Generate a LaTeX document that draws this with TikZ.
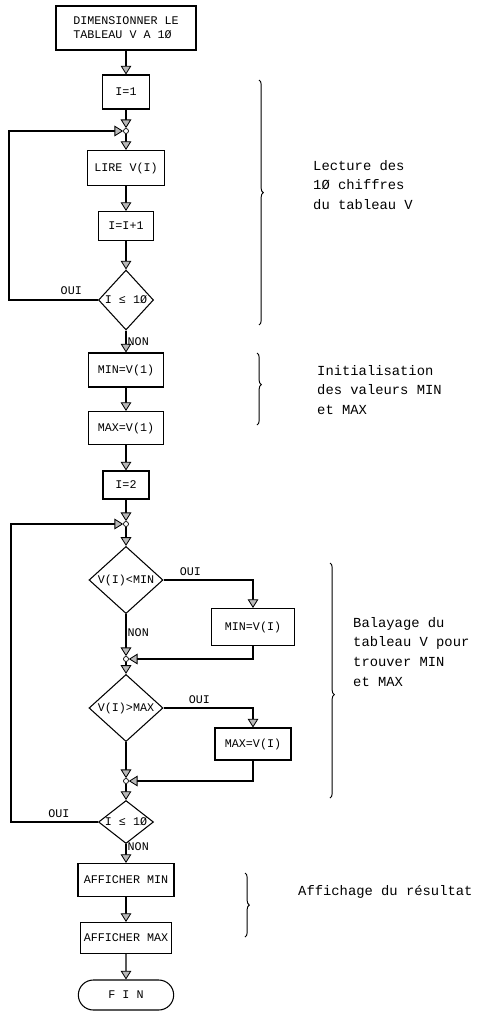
\documentclass[tikz,border=0pt]{standalone}
\usepackage{fontspec}
\setmonofont{Liberation Mono}
\usetikzlibrary{positioning, arrows.meta, shapes.geometric, shapes.misc, decorations.pathreplacing}

\begin{document}
\begin{tikzpicture}[
  x=0.03cm, y=-0.03cm,
  box/.style={
    draw,
    line width=0.9pt,
    inner sep=2pt,
    align=center,
    font=\fontsize{10}{12}\selectfont\ttfamily
  },
  test/.style={
    diamond,
    draw,
    line width=0.9pt,
    inner sep=0pt,
    aspect=1,
    font=\fontsize{10}{12}\selectfont\ttfamily
  },
  jonction/.style={
    circle,
    draw,
    fill=white,
    inner sep=0pt,
    minimum size=0.15cm,
    line width=0.6pt
  },
  arrow/.style={
    -{Triangle[width=0.32cm, length=0.26cm, fill=gray!55, line width=0.7pt]},
    line width=0.9pt
  },
  lab/.style={
    inner sep=1pt,
    font=\fontsize{10}{12}\selectfont\ttfamily
  },
  note/.style={
    anchor=west,
    align=left,
    inner sep=0pt,
    font=\fontsize{11.8}{17}\selectfont\ttfamily
  },
  accolade/.style={
    decorate,
    decoration={brace, amplitude=0.13cm, aspect=#1},
    line width=0.8pt
  },
  accolade/.default=0.5
]
\useasboundingbox (0,0) rectangle (477,1013);

\node[box, minimum width=4.2cm, minimum height=1.32cm, align=left] (dim) at (126,28)
  {DIMENSIONNER LE\\TABLEAU V A 1Ø};
\node[box, minimum width=1.41cm, minimum height=1.02cm] (i1) at (126,92) {I=1};
\node[jonction] (j1) at (126,131) {};
\node[box, minimum width=2.31cm, minimum height=1.05cm] (lire) at (126,168) {LIRE V(I)};
\node[box, minimum width=1.65cm, minimum height=0.87cm] (incr) at (126,226) {I=I+1};
\node[test, minimum width=1.65cm, minimum height=1.8cm] (fin1) at (126,300) {I ≤ 1Ø};
\node[box, minimum width=2.25cm, minimum height=1.02cm] (minv) at (126,370) {MIN=V(1)};
\node[box, minimum width=2.25cm, minimum height=0.99cm] (maxv) at (126,428) {MAX=V(1)};
\node[box, minimum width=1.38cm, minimum height=0.84cm] (i2) at (126,485) {I=2};
\node[jonction] (j2) at (126,524) {};
\node[test, minimum width=2.22cm, minimum height=1.98cm] (cmin) at (126,580) {V(I)<MIN};
\node[box, minimum width=2.49cm, minimum height=1.11cm] (setmin) at (253,627) {MIN=V(I)};
\node[jonction] (j3) at (126,659) {};
\node[test, minimum width=2.22cm, minimum height=1.74cm] (cmax) at (126,708) {V(I)>MAX};
\node[box, minimum width=2.28cm, minimum height=0.96cm] (setmax) at (253,744) {MAX=V(I)};
\node[jonction] (j4) at (126,781) {};
\node[test, aspect=1.3, minimum width=1.65cm, minimum height=1.29cm] (fin2) at (126,822) {I ≤ 1Ø};
\node[box, minimum width=2.88cm, minimum height=0.99cm] (affmin) at (126,880) {AFFICHER MIN};
\node[box, minimum width=2.73cm, minimum height=0.93cm] (affmax) at (126,938) {AFFICHER MAX};
\node[box, rounded rectangle, minimum width=3cm, minimum height=0.9cm] (fin) at (126,995) {F I N};

\coordinate (back1) at (9,300);
\coordinate (back2) at (11,822);

\draw[arrow] (dim) -- (i1);
\draw[arrow] (i1) -- (j1);
\draw[arrow] (j1) -- (lire);
\draw[arrow] (lire) -- (incr);
\draw[arrow] (incr) -- (fin1);
\draw[arrow] (fin1.west) -- node[lab, above=3pt, pos=0.3] {OUI} (back1) |- (j1);
\draw[arrow] (fin1) -- node[lab, right, pos=0.5] {NON} (minv);
\draw[arrow] (minv) -- (maxv);
\draw[arrow] (maxv) -- (i2);
\draw[arrow] (i2) -- (j2);
\draw[arrow] (j2) -- (cmin);
\draw[arrow] (cmin.east) -| node[lab, above=2pt, pos=0.15] {OUI} (setmin);
\draw[arrow] (cmin) -- node[lab, right, pos=0.45] {NON} (j3);
\draw[arrow] (setmin) |- (j3);
\draw[arrow] (j3) -- (cmax);
\draw[arrow] (cmax.east) -| node[lab, above=2pt, pos=0.2] {OUI} (setmax);
\draw[arrow] (cmax) -- (j4);
\draw[arrow] (setmax) |- (j4);
\draw[arrow] (j4) -- (fin2);
\draw[arrow] (fin2.west) -- node[lab, above=2pt, pos=0.45] {OUI} (back2) |- (j2);
\draw[arrow] (fin2) -- node[lab, right, pos=0.15] {NON} (affmin);
\draw[arrow] (affmin) -- (affmax);
\draw[arrow] (affmax) -- (fin);

\draw[accolade=0.46] (259,80) -- (259,325);
\draw[accolade=0.44] (257,353) -- (257,425);
\draw[accolade=0.56] (330,563) -- (330,798);
\draw[accolade] (245,873) -- (245,937);

\node[note] (lecture) at (313,185) {Lecture des\\1Ø chiffres\\du tableau V};
\node[note] (init) at (317,390) {Initialisation\\des valeurs MIN\\et MAX};
\node[note] (balayage) at (353,652) {Balayage du\\tableau V pour\\trouver MIN\\et MAX};
\node[note] (affichage) at (298,892) {Affichage du résultat};

\end{tikzpicture}
\end{document}
